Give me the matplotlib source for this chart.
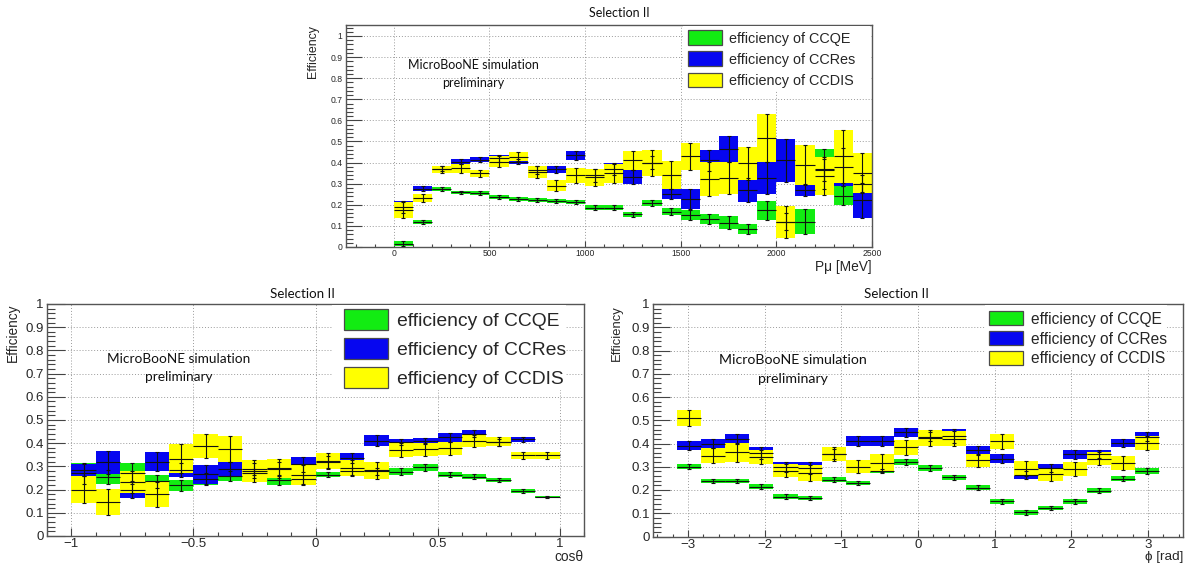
import numpy as np
import matplotlib
matplotlib.use("Agg")
import matplotlib.pyplot as plt
from matplotlib.patches import Rectangle
from matplotlib.ticker import MultipleLocator, FuncFormatter

# ---------------- data ----------------
# Top panel: muon momentum, 25 bins of 100 MeV
pmu_edges = np.arange(0, 2501, 100)
pmu_ccqe = [0.016, 0.12, 0.273, 0.259, 0.254, 0.238, 0.226, 0.222, 0.218, 0.215, 0.185, 0.185, 0.155,
            0.208, 0.168, 0.151, 0.132, 0.116, 0.085, 0.173, 0.12, 0.119, 0.37, 0.244, 0.30]
pmu_ccqe_err = [0.011, 0.01, 0.01, 0.008, 0.009, 0.01, 0.01, 0.01, 0.01, 0.01, 0.012, 0.012, 0.013,
                0.016, 0.018, 0.022, 0.025, 0.03, 0.025, 0.047, 0.04, 0.059, 0.095, 0.047, 0.04]
pmu_ccres = [0.19, 0.277, 0.37, 0.404, 0.414, 0.42, 0.405, 0.365, 0.368, 0.435, 0.34, 0.37, 0.331,
             0.40, 0.252, 0.227, 0.41, 0.465, 0.27, 0.326, 0.41, 0.27, 0.365, 0.38, 0.221]
pmu_ccres_err = [0.03, 0.012, 0.012, 0.011, 0.012, 0.015, 0.014, 0.02, 0.018, 0.022, 0.03, 0.028, 0.032,
                 0.03, 0.024, 0.049, 0.05, 0.063, 0.055, 0.076, 0.1, 0.03, 0.05, 0.09, 0.084]
pmu_ccdis = [0.176, 0.232, 0.368, 0.373, 0.349, 0.404, 0.428, 0.355, 0.291, 0.339, 0.331, 0.35, 0.41,
             0.398, 0.341, 0.43, 0.323, 0.327, 0.396, 0.516, 0.12, 0.388, 0.337, 0.43, 0.352]
pmu_ccdis_err = [0.037, 0.018, 0.016, 0.021, 0.018, 0.025, 0.022, 0.027, 0.028, 0.036, 0.04, 0.045, 0.047,
                 0.062, 0.065, 0.064, 0.079, 0.075, 0.078, 0.114, 0.075, 0.093, 0.089, 0.125, 0.095]

# Bottom left: cos(theta), 20 bins
cos_edges = np.linspace(-1, 1, 21)
cos_ccqe = [0.27, 0.253, 0.27, 0.235, 0.218, 0.245, 0.26, 0.27, 0.241, 0.245, 0.265, 0.28, 0.28,
            0.277, 0.296, 0.265, 0.255, 0.24, 0.193, 0.168]
cos_ccqe_err = [0.045, 0.03, 0.045, 0.028, 0.023, 0.025, 0.021, 0.02, 0.02, 0.02, 0.012, 0.015, 0.015,
                0.014, 0.014, 0.012, 0.011, 0.009, 0.008, 0.006]
cos_ccres = [0.284, 0.317, 0.2, 0.321, 0.285, 0.266, 0.29, 0.29, 0.29, 0.31, 0.32, 0.335, 0.411,
             0.405, 0.41, 0.426, 0.44, 0.405, 0.416, np.nan]
cos_ccres_err = [0.025, 0.05, 0.038, 0.04, 0.03, 0.04, 0.031, 0.025, 0.03, 0.032, 0.025, 0.021, 0.023,
                 0.012, 0.012, 0.02, 0.015, 0.015, 0.012, np.nan]
cos_ccdis = [0.2, 0.146, 0.232, 0.18, 0.333, 0.387, 0.376, 0.281, 0.291, 0.263, 0.322, 0.293, 0.283,
             0.372, 0.374, 0.378, 0.41, 0.407, 0.348, 0.348]
cos_ccdis_err = [0.059, 0.055, 0.048, 0.053, 0.063, 0.052, 0.055, 0.047, 0.042, 0.043, 0.035, 0.035, 0.037,
                 0.03, 0.029, 0.029, 0.025, 0.02, 0.016, 0.016]

# Bottom right: phi, 20 bins from -pi to pi
phi_edges = np.linspace(-np.pi, np.pi, 21)
phi_ccqe = [0.301, 0.238, 0.238, 0.215, 0.172, 0.166, 0.244, 0.23, 0.281, 0.321, 0.293, 0.255, 0.209,
            0.151, 0.104, 0.124, 0.151, 0.197, 0.248, 0.282]
phi_ccqe_err = [0.011, 0.01, 0.01, 0.01, 0.01, 0.01, 0.011, 0.01, 0.01, 0.013, 0.013, 0.011, 0.011,
                0.011, 0.01, 0.009, 0.011, 0.01, 0.011, 0.012]
phi_ccres = [0.391, 0.40, 0.419, 0.36, 0.30, 0.295, 0.355, 0.411, 0.411, 0.448, 0.43, 0.432, 0.37,
             0.335, 0.265, 0.295, 0.354, 0.355, 0.403, 0.43]
phi_ccres_err = [0.018, 0.02, 0.02, 0.025, 0.022, 0.025, 0.02, 0.02, 0.02, 0.018, 0.02, 0.03, 0.02,
                 0.019, 0.018, 0.018, 0.02, 0.018, 0.018, 0.02]
phi_ccdis = [0.511, 0.348, 0.362, 0.343, 0.283, 0.273, 0.355, 0.301, 0.316, 0.384, 0.425, 0.42, 0.327,
             0.409, 0.292, 0.267, 0.29, 0.335, 0.316, 0.402]
phi_ccdis_err = [0.034, 0.032, 0.04, 0.03, 0.028, 0.033, 0.029, 0.028, 0.04, 0.032, 0.034, 0.032, 0.029,
                 0.033, 0.031, 0.027, 0.029, 0.029, 0.032, 0.029]

legend_labels = ["efficiency of CCQE", "efficiency of CCRes", "efficiency of CCDIS"]
title_text = "Selection II"
sim_text = ["MicroBooNE simulation", "preliminary"]

# ---------------- style ----------------
W, H = 1190, 565
COLORS = ["#12ec12", "#0606f0", "#ffff00"]
ROOT_FONT = ["Liberation Sans", "DejaVu Sans"]
CAL_FONT = ["Lato", "DejaVu Sans"]
TXT = "#262626"

fig = plt.figure(figsize=(W / 100, H / 100), dpi=100)


def fx(x):
    return x / W


def fy(y):
    return 1 - y / H


def make_axes(l, t, r, b):
    return fig.add_axes([fx(l), fy(b), fx(r - l), (b - t) / H])


def draw_hists(ax, edges, series):
    edges = np.asarray(edges, float)
    centers = 0.5 * (edges[:-1] + edges[1:])
    widths = np.diff(edges)
    for (vals, errs), col in zip(series, COLORS):
        v = np.asarray(vals, float)
        e = np.asarray(errs, float)
        ax.bar(centers, 2 * e, bottom=v - e, width=widths, color=col, linewidth=0,
               align="center", zorder=2)
    for (vals, errs), col in zip(series, COLORS):
        v = np.asarray(vals, float)
        e = np.asarray(errs, float)
        ax.errorbar(centers, v, xerr=widths / 2, fmt="none", ecolor="#111111",
                    elinewidth=0.8, capsize=0, zorder=5)
        ax.errorbar(centers, v, yerr=e, fmt="none", ecolor="#111111",
                    elinewidth=0.8, capsize=1.3, capthick=0.8, zorder=5)


def style_axes(ax, xlim, ylim, xmaj, xmin, tick_fs, ymaj_len, ymin_len, xmaj_len, xmin_len, xfmt):
    ax.set_xlim(*xlim)
    ax.set_ylim(*ylim)
    ax.xaxis.set_major_locator(MultipleLocator(xmaj))
    ax.xaxis.set_minor_locator(MultipleLocator(xmin))
    ax.yaxis.set_major_locator(MultipleLocator(0.1))
    ax.yaxis.set_minor_locator(MultipleLocator(0.02))
    ax.yaxis.set_major_formatter(FuncFormatter(lambda v, p: "%g" % round(v, 3)))
    ax.xaxis.set_major_formatter(FuncFormatter(xfmt))
    ax.grid(True, which="major", linestyle=(0, (1, 2)), color="#9a9a9a", linewidth=0.7, zorder=0)
    ax.set_axisbelow(True)
    for s in ax.spines.values():
        s.set_color("#555555")
        s.set_linewidth(1.0)
    ax.tick_params(which="both", direction="in", top=False, right=False, colors="#444444",
                   labelcolor=TXT, labelsize=tick_fs, width=0.8)
    ax.tick_params(axis="y", which="major", length=ymaj_len, pad=2.5)
    ax.tick_params(axis="y", which="minor", length=ymin_len)
    ax.tick_params(axis="x", which="major", length=xmaj_len, pad=1.5)
    ax.tick_params(axis="x", which="minor", length=xmin_len)
    for lab in ax.get_xticklabels() + ax.get_yticklabels():
        lab.set_family(ROOT_FONT)


def minus_fmt(v, p):
    s = "%g" % round(v, 3)
    return s.replace("-", "\u2212")


def legend_box(box, sw_x, sw_w, rows, text_x, fs):
    l, t, r, b = box
    fig.patches.append(Rectangle((fx(l), fy(b)), fx(r - l), (b - t) / H, transform=fig.transFigure,
                                 facecolor="white", edgecolor="none", zorder=1))
    for (rt, rb), col, lab in zip(rows, COLORS, legend_labels):
        fig.patches.append(Rectangle((fx(sw_x), fy(rb)), fx(sw_w), (rb - rt) / H,
                                     transform=fig.transFigure, facecolor=col,
                                     edgecolor="#4a4a4a", linewidth=0.9, zorder=2))
        fig.text(fx(text_x), fy((rt + rb) / 2), lab, fontsize=fs, family=ROOT_FONT, color=TXT,
                 ha="left", va="center_baseline", zorder=3)


def sim_label(cx, y1, y2, fs):
    fig.text(fx(cx), fy(y1), sim_text[0], fontsize=fs, family=CAL_FONT, color="#111111",
             ha="center", va="center")
    fig.text(fx(cx), fy(y2), sim_text[1], fontsize=fs, family=CAL_FONT, color="#111111",
             ha="center", va="center")


# ---------------- top panel ----------------
ax1 = make_axes(346, 25, 872, 247)
draw_hists(ax1, pmu_edges, [(pmu_ccqe, pmu_ccqe_err), (pmu_ccres, pmu_ccres_err),
                            (pmu_ccdis, pmu_ccdis_err)])
style_axes(ax1, (-250, 2500), (0, 1.052), 500, 100, 6.2, 11.5, 5, 4.3, 2.2,
           lambda v, p: "%d" % v)
legend_box((683, 26, 870, 91), 688, 34, [(30, 44.5), (51, 65.5), (72.5, 87)], 729, 10.4)
sim_label(473, 65, 83, 9.0)
fig.text(fx(619), fy(13), title_text, fontsize=9.0, family=CAL_FONT, color="#111111",
         ha="center", va="center")
fig.text(fx(313.5), fy(25), "Efficiency", fontsize=8.9, family=ROOT_FONT, color=TXT,
         rotation=90, ha="center", va="top")
fig.text(fx(872), fy(266.7), "P\u03bc [MeV]", fontsize=9.9, family=ROOT_FONT, color=TXT,
         ha="right", va="center")

# ---------------- bottom left ----------------
ax2 = make_axes(47, 304, 584, 536)
draw_hists(ax2, cos_edges, [(cos_ccqe, cos_ccqe_err), (cos_ccres, cos_ccres_err),
                            (cos_ccdis, cos_ccdis_err)])
style_axes(ax2, (-1.1, 1.1), (0, 1), 0.5, 0.1, 9.5, 13, 5.8, 5.8, 2.9, minus_fmt)
legend_box((332, 305, 566, 390), 344, 44, [(309, 330), (338, 359), (367, 388)], 397, 13.9)
sim_label(179, 359.3, 376.7, 9.8)
fig.text(fx(302), fy(294), title_text, fontsize=9.6, family=CAL_FONT, color="#111111",
         ha="center", va="center")
fig.text(fx(13), fy(303), "Efficiency", fontsize=9.8, family=ROOT_FONT, color=TXT,
         rotation=90, ha="center", va="top")
fig.text(fx(583.5), fy(556.7), "cos\u03b8", fontsize=9.9, family=ROOT_FONT, color=TXT,
         ha="right", va="center")

# ---------------- bottom right ----------------
ax3 = make_axes(653, 304, 1183, 536.5)
draw_hists(ax3, phi_edges, [(phi_ccqe, phi_ccqe_err), (phi_ccres, phi_ccres_err),
                            (phi_ccdis, phi_ccdis_err)])
style_axes(ax3, (-1.1 * np.pi, 1.1 * np.pi), (0, 1), 1, 0.2, 9.5, 12.5, 5.8, 5.0, 2.5, minus_fmt)
legend_box((985, 305, 1167, 368), 989, 34, [(311, 325), (331, 345), (350.5, 364.5)], 1031, 11.2)
sim_label(793, 360, 379, 10.2)
fig.text(fx(897), fy(294), title_text, fontsize=9.6, family=CAL_FONT, color="#111111",
         ha="center", va="center")
fig.text(fx(617), fy(305), "Efficiency", fontsize=9.4, family=ROOT_FONT, color=TXT,
         rotation=90, ha="center", va="top")
fig.text(fx(1183), fy(556.7), "\u03d5 [rad]", fontsize=9.7, family=ROOT_FONT, color=TXT,
         ha="right", va="center")

fig.savefig("out.png", dpi=100)
